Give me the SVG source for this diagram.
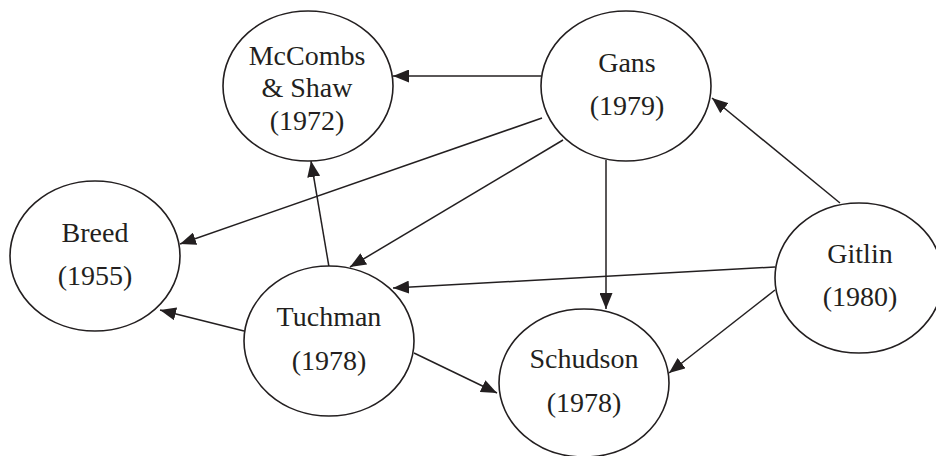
<svg xmlns="http://www.w3.org/2000/svg" width="936" height="456" viewBox="0 0 936 456">
<style>
.node ellipse{fill:#fff;stroke:#231f20;stroke-width:1.6}
.node text{font-family:"Liberation Serif","Times New Roman",serif;font-size:28px;fill:#231f20;text-anchor:middle}
.edges line{stroke:#231f20;stroke-width:1.5;marker-end:url(#ah)}
</style>
<defs>
<marker id="ah" markerUnits="userSpaceOnUse" markerWidth="17" markerHeight="13" refX="16" refY="6.5" orient="auto">
<path d="M0,0 L16,6.5 L0,13 Z" fill="#231f20"/>
</marker>
</defs>
<rect width="936" height="456" fill="#fff"/>
<g class="edges">
<line x1="541" y1="76" x2="393" y2="76"/>
<line x1="542" y1="118" x2="180" y2="244"/>
<line x1="563" y1="140" x2="350" y2="267"/>
<line x1="606" y1="160" x2="606" y2="309"/>
<line x1="840" y1="203" x2="712" y2="98"/>
<line x1="775" y1="267" x2="393" y2="288"/>
<line x1="775" y1="290" x2="669" y2="373"/>
<line x1="329" y1="267" x2="311" y2="161"/>
<line x1="244" y1="331" x2="160" y2="310"/>
<line x1="414" y1="353" x2="497" y2="393"/>
</g>
<g id="mccombs" class="node"><ellipse cx="308" cy="86" rx="85" ry="75"/><text x="307" y="65">McCombs</text><text x="307" y="97">&amp; Shaw</text><text x="307" y="130">(1972)</text></g>
<g id="gans" class="node"><ellipse cx="626" cy="86" rx="85" ry="75"/><text x="627" y="72">Gans</text><text x="627" y="115">(1979)</text></g>
<g id="breed" class="node"><ellipse cx="95" cy="256" rx="85" ry="75"/><text x="95" y="242">Breed</text><text x="95" y="285">(1955)</text></g>
<g id="tuchman" class="node"><ellipse cx="329" cy="341" rx="85" ry="75"/><text x="329" y="326">Tuchman</text><text x="329" y="370">(1978)</text></g>
<g id="schudson" class="node"><ellipse cx="584" cy="383" rx="85" ry="74"/><text x="584" y="368">Schudson</text><text x="584" y="412">(1978)</text></g>
<g id="gitlin" class="node"><ellipse cx="859" cy="278" rx="84" ry="75"/><text x="860" y="263">Gitlin</text><text x="860" y="306">(1980)</text></g>
</svg>
